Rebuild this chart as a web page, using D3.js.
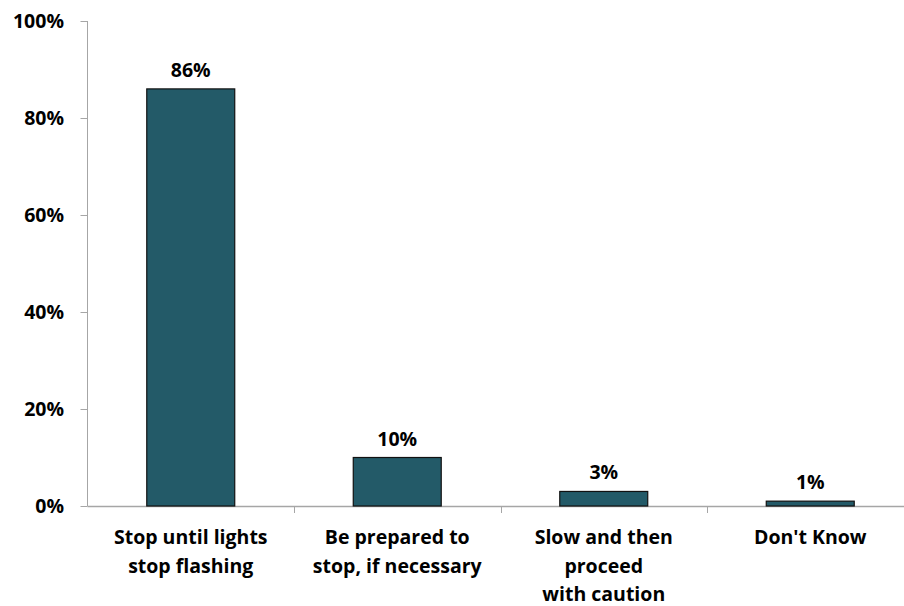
<!DOCTYPE html>
<html><head><meta charset="utf-8">
<script src="https://cdn.jsdelivr.net/npm/d3@7"></script>
<style>body{margin:0;background:#fff}svg{display:block}text{font-family:"Open Sans",Lato,sans-serif;font-weight:bold;fill:#000}</style>
</head><body>
<script>
const categories = [["Stop until lights","stop flashing"],["Be prepared to","stop, if necessary"],["Slow and then","proceed","with caution"],["Don't Know"]];
const values = [86, 10, 3, 1];
const valueLabels = ["86%","10%","3%","1%"];
const yTicks = [0,20,40,60,80,100];

const W=904,H=606;
const svg=d3.select("body").append("svg").attr("width",W).attr("height",H);
const x0=87.5, step=206.5;
const x=d3.scaleBand().domain(d3.range(values.length)).range([x0,x0+step*values.length]).paddingInner(0.574).paddingOuter(0.287);
const y=d3.scaleLinear().domain([0,100]).range([506,21]);
const axisColor="#a6a6a6";

// y axis
svg.append("line").attr("x1",x0).attr("x2",x0).attr("y1",y(100)).attr("y2",y(0)).attr("stroke",axisColor);
yTicks.forEach(t=>{
  svg.append("line").attr("x1",x0-7).attr("x2",x0).attr("y1",Math.round(y(t))+0.5).attr("y2",Math.round(y(t))+0.5).attr("stroke",axisColor);
  svg.append("text").attr("x",64).attr("y",y(t)).attr("dy","0.36em").attr("text-anchor","end").attr("font-size",19.5).text(t+"%");
});
// x axis
svg.append("line").attr("x1",x0).attr("x2",W).attr("y1",y(0)+0.5).attr("y2",y(0)+0.5).attr("stroke",axisColor).attr("stroke-width",1.5);
for(let i=1;i<values.length;i++){
  const xi=Math.round(x0+step*i)+0.5;
  svg.append("line").attr("x1",xi).attr("x2",xi).attr("y1",y(0)).attr("y2",y(0)+7).attr("stroke",axisColor);
}
// bars
svg.selectAll("rect.bar").data(values).enter().append("rect").attr("class","bar")
  .attr("x",(d,i)=>x(i)).attr("width",x.bandwidth())
  .attr("y",d=>y(d)).attr("height",d=>y(0)-y(d))
  .attr("fill","#235a68").attr("stroke","#111").attr("stroke-width",1.2);
// value labels
svg.selectAll("text.val").data(values).enter().append("text").attr("class","val")
  .attr("x",(d,i)=>x(i)+x.bandwidth()/2).attr("y",d=>y(d)-12)
  .attr("text-anchor","middle").attr("font-size",19.5).text((d,i)=>valueLabels[i]);
// category labels
categories.forEach((lines,i)=>{
  const t=svg.append("text").attr("text-anchor","middle").attr("font-size",19.5);
  lines.forEach((l,j)=>t.append("tspan").attr("x",x(i)+x.bandwidth()/2).attr("y",544+j*28.5).text(l));
});
</script>
</body></html>
